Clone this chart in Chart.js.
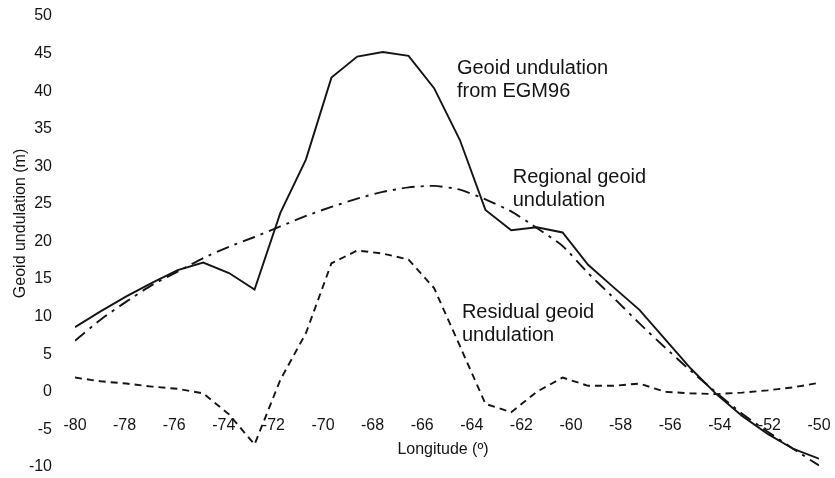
<!DOCTYPE html>
<html>
<head>
<meta charset="utf-8">
<script src="https://cdn.jsdelivr.net/npm/chart.js@4"></script>
<style>
  html, body { margin: 0; padding: 0; background: #fff; }
  #wrap { width: 835px; height: 478px; }
</style>
</head>
<body>
<div id="wrap"><canvas id="geoidChart" width="835" height="478"></canvas></div>
<script>
// profile sampled at 30 equally spaced longitudes
const longitudes = [-80, -78.97, -77.93, -76.9, -75.86, -74.83, -73.79, -72.76, -71.72, -70.69,
    -69.66, -68.62, -67.59, -66.55, -65.52, -64.48, -63.45, -62.41, -61.38, -60.34,
    -59.31, -58.28, -57.24, -56.21, -55.17, -54.14, -53.1, -52.07, -51.03, -50];

const egm96 = [8.6, 10.7, 12.7, 14.5, 16.2, 17.2, 15.8, 13.6, 23.8, 30.9,
    41.8, 44.6, 45.2, 44.7, 40.4, 33.5, 24.2, 21.5, 21.9, 21.2,
    16.9, 13.9, 10.9, 7.0, 3.1, -0.3, -3.2, -5.6, -7.6, -8.9];

const regional = [6.8, 9.6, 12.0, 14.2, 16.0, 17.8, 19.3, 20.6, 22.0, 23.4,
    24.6, 25.7, 26.6, 27.2, 27.4, 26.9, 25.6, 24.0, 21.8, 19.4,
    15.8, 12.5, 9.1, 5.9, 2.8, -0.1, -2.9, -5.3, -7.6, -9.8];

const residual = [1.9, 1.4, 1.1, 0.7, 0.4, -0.2, -3.0, -7.0, 1.6, 7.8,
    17.1, 18.8, 18.4, 17.6, 13.8, 6.1, -1.6, -2.7, 0.0, 1.9,
    0.8, 0.8, 1.1, 0.0, -0.2, -0.3, -0.1, 0.2, 0.6, 1.2];

const xTitle = 'Longitude (º)';
const yTitle = 'Geoid undulation (m)';

// in-plot labels: text lines, anchor longitude, anchor undulation (baseline of first line)
const notes = [
    { lines: ['Geoid undulation', 'from EGM96'], x: -64.6, y: 42.3 },
    { lines: ['Regional geoid', 'undulation'], x: -62.35, y: 27.8 },
    { lines: ['Residual geoid', 'undulation'], x: -64.4, y: 9.8 }
];

const pts = (vals) => longitudes.map((x, i) => ({ x: x, y: vals[i] }));

const INK = '#141414';
const FONT = '"Liberation Sans", Arial, sans-serif';

// invisible tick marks, used only to push the labels away from the axis
// (ticks.padding would also inflate the layout padding around the plot)
const hiddenGrid = (len) => ({
    display: true,
    drawOnChartArea: false,
    drawTicks: true,
    tickLength: len,
    color: 'rgba(0,0,0,0)'
});

// draws axis titles and the curve labels
const textPlugin = {
    id: 'texts',
    afterDraw(chart) {
        const ctx = chart.ctx;
        const xs = chart.scales.x, ys = chart.scales.y;
        ctx.save();
        ctx.fillStyle = INK;
        ctx.font = '20px ' + FONT;
        ctx.textAlign = 'left';
        ctx.textBaseline = 'alphabetic';
        notes.forEach(n => {
            const px = xs.getPixelForValue(n.x);
            const py = ys.getPixelForValue(n.y);
            n.lines.forEach((t, i) => ctx.fillText(t, px, py + i * 23));
        });

        ctx.font = '16px ' + FONT;
        ctx.textAlign = 'center';
        ctx.fillText(xTitle, (chart.chartArea.left + chart.chartArea.right) / 2 - 4, ys.getPixelForValue(-8.3));

        ctx.translate(25, ys.getPixelForValue(22.4));
        ctx.rotate(-Math.PI / 2);
        ctx.fillText(yTitle, 0, 0);
        ctx.restore();
    }
};

const ctx = document.getElementById('geoidChart').getContext('2d');

new Chart(ctx, {
    type: 'line',
    data: {
        datasets: [
            {
                label: 'Geoid undulation from EGM96',
                data: pts(egm96),
                borderColor: INK,
                borderWidth: 1.9,
                pointRadius: 0,
                tension: 0
            },
            {
                label: 'Regional geoid undulation',
                data: pts(regional),
                borderColor: INK,
                borderWidth: 1.9,
                borderDash: [13, 6, 3, 6],
                pointRadius: 0,
                tension: 0.2
            },
            {
                label: 'Residual geoid undulation',
                data: pts(residual),
                borderColor: INK,
                borderWidth: 1.9,
                borderDash: [7, 5],
                pointRadius: 0,
                tension: 0
            }
        ]
    },
    options: {
        responsive: false,
        animation: false,
        layout: { padding: { top: 16, right: 16, bottom: 11, left: 0 } },
        scales: {
            x: {
                type: 'linear',
                position: { y: 0 },
                min: -80,
                max: -50,
                grid: hiddenGrid(24),
                border: { display: false },
                ticks: {
                    stepSize: 2,
                    padding: 0,
                    color: INK,
                    font: { family: FONT, size: 16 }
                }
            },
            y: {
                min: -10,
                max: 50,
                afterFit: (scale) => { scale.width = 75; },
                grid: hiddenGrid(23),
                border: { display: false },
                ticks: {
                    stepSize: 5,
                    padding: 0,
                    color: INK,
                    font: { family: FONT, size: 16 }
                }
            }
        },
        plugins: {
            legend: { display: false },
            tooltip: { enabled: false }
        }
    },
    plugins: [textPlugin]
});
</script>
</body>
</html>
